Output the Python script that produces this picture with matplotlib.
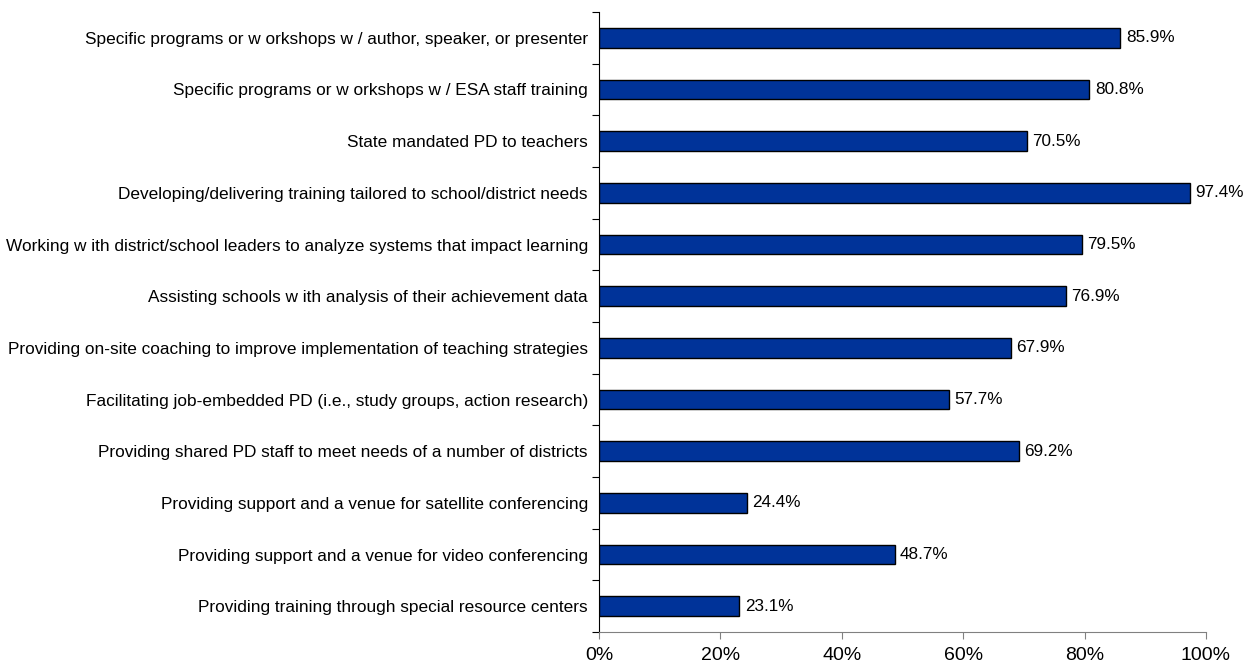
import matplotlib.pyplot as plt
import numpy as np

plt.rcParams['font.family'] = ['Liberation Sans', 'DejaVu Sans']

# Services offered (top to bottom) and share of respondents
services = [
    "Specific programs or w orkshops w / author, speaker, or presenter",
    "Specific programs or w orkshops w / ESA staff training",
    "State mandated PD to teachers",
    "Developing/delivering training tailored to school/district needs",
    "Working w ith district/school leaders to analyze systems that impact learning",
    "Assisting schools w ith analysis of their achievement data",
    "Providing on-site coaching to improve implementation of teaching strategies",
    "Facilitating job-embedded PD (i.e., study groups, action research)",
    "Providing shared PD staff to meet needs of a number of districts",
    "Providing support and a venue for satellite conferencing",
    "Providing support and a venue for video conferencing",
    "Providing training through special resource centers",
]
percent = [85.9, 80.8, 70.5, 97.4, 79.5, 76.9, 67.9, 57.7, 69.2, 24.4, 48.7, 23.1]
xticks = [0, 20, 40, 60, 80, 100]

fig = plt.figure(figsize=(12.48, 6.66), dpi=100)
ax = fig.add_axes([0.48, 0.051, 0.4863, 0.931])

n = len(services)
y = np.arange(n)[::-1]
ax.barh(y, percent, height=0.38, color='#003399', edgecolor='black', linewidth=1)

for yi, v in zip(y, percent):
    ax.text(v + 0.9, yi, f"{v:.1f}%", va='center', ha='left', fontsize=12.3)

ax.set_ylim(-0.5, n - 0.5)
ax.set_xlim(0, 100)

# category labels placed via minor ticks, boundary ticks as major
ax.set_yticks(np.arange(-0.5, n, 1.0))
ax.set_yticklabels([])
ax.set_yticks(y, minor=True)
ax.set_yticklabels(services, minor=True, fontsize=12.4)
ax.tick_params(axis='y', which='minor', length=0, pad=8)
ax.tick_params(axis='y', which='major', length=5, direction='out', color='black')

ax.set_xticks(xticks)
ax.set_xticklabels([f"{t}%" for t in xticks], fontsize=14)
ax.tick_params(axis='x', length=5, direction='out', color='#808080', pad=6)

for s in ['top', 'right']:
    ax.spines[s].set_visible(False)
ax.spines['left'].set_color('black')
ax.spines['bottom'].set_color('#808080')

plt.savefig('out.png', dpi=100)
